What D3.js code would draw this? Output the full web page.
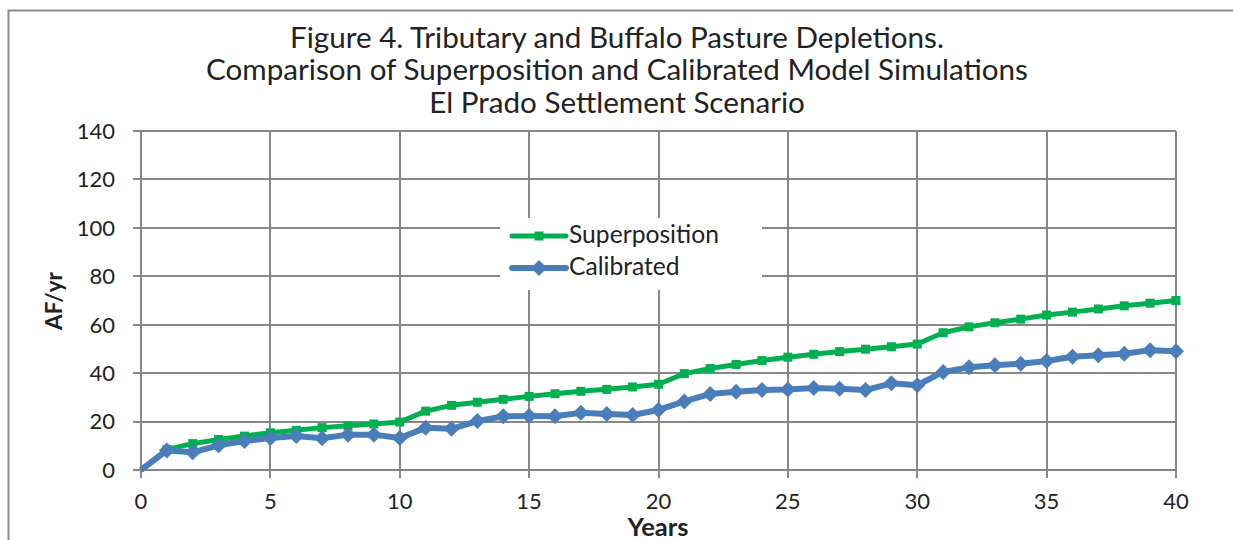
<!DOCTYPE html>
<html>
<head>
<meta charset="utf-8">
<script src="https://cdn.jsdelivr.net/npm/d3@7"></script>
<style>
  body { margin: 0; background: #fff; }
  svg { display: block; font-family: Lato, "Open Sans", sans-serif; }
</style>
</head>
<body>
<div id="chart"></div>
<script>
// Chart data
const years = d3.range(0, 41);
const superposition = [0, 8.5, 10.9, 12.6, 14.0, 15.4, 16.4, 17.5, 18.3, 19.0, 19.8,
  24.3, 26.7, 28.0, 29.2, 30.4, 31.5, 32.5, 33.3, 34.3, 35.4,
  39.8, 41.9, 43.6, 45.2, 46.6, 47.8, 48.9, 49.9, 50.9, 52.0,
  56.7, 59.1, 60.8, 62.3, 64.0, 65.2, 66.5, 67.8, 68.9, 70.0];
const calibrated = [0, 8.1, 7.3, 10.2, 12.0, 13.2, 14.0, 13.1, 14.6, 14.6, 13.2,
  17.4, 17.0, 20.2, 22.2, 22.3, 22.2, 23.6, 23.1, 22.7, 24.8,
  28.3, 31.4, 32.3, 33.0, 33.2, 33.9, 33.6, 33.0, 35.8, 35.0,
  40.5, 42.4, 43.3, 43.9, 45.0, 46.8, 47.4, 48.0, 49.5, 49.0];
const xTicks = [0, 5, 10, 15, 20, 25, 30, 35, 40];
const yTicks = [0, 20, 40, 60, 80, 100, 120, 140];
const titleLines = [
  "Figure 4. Tributary and Buffalo Pasture Depletions.",
  "Comparison of Superposition and Calibrated Model Simulations",
  "El Prado Settlement Scenario"
];

const width = 1233, height = 540;
const gridColor = "#878787";
const textColor = "#222";
const green = "#00b050", blue = "#4a7ebb";

const svg = d3.select("#chart").append("svg")
  .attr("width", width)
  .attr("height", height);

// scale a text's font size so it spans the wanted width
function fitWidth(sel, target) {
  const w = sel.node().getComputedTextLength();
  const fs = parseFloat(sel.attr("font-size"));
  sel.attr("font-size", (fs * target / w).toFixed(2) + "px");
  return fs * target / w;
}

// outer chart border (runs off the right and bottom edge)
svg.append("rect")
  .attr("x", 8.5).attr("y", 10.5)
  .attr("width", 1240).attr("height", 560)
  .attr("fill", "#fff")
  .attr("stroke", "#8c8c8c")
  .attr("stroke-width", 2);

const x = d3.scaleLinear().domain([0, 40]).range([141, 1176]);
const y = d3.scaleLinear().domain([0, 140]).range([470, 131]);

// title
const title = svg.append("g").attr("class", "title");
const titleTexts = titleLines.map((t, i) => title.append("text")
  .attr("x", 617)
  .attr("y", 47.5 + i * 32.5)
  .attr("text-anchor", "middle")
  .attr("font-size", "26px")
  .attr("fill", textColor)
  .text(t));
// one size for all three lines, taken from the longest one
const titleSize = fitWidth(titleTexts[1], 822);
titleTexts.forEach(t => t.attr("font-size", titleSize.toFixed(2) + "px"));

// grid
const grid = svg.append("g").attr("stroke", gridColor).attr("stroke-width", 2);
grid.selectAll("line.h").data(yTicks).enter().append("line")
  .attr("x1", x(0) - 8).attr("x2", x(40))
  .attr("y1", d => Math.round(y(d))).attr("y2", d => Math.round(y(d)));
grid.selectAll("line.v").data(xTicks).enter().append("line")
  .attr("x1", d => Math.round(x(d))).attr("x2", d => Math.round(x(d)))
  .attr("y1", y(140)).attr("y2", y(0) + 8);

// legend background hides the grid behind it
svg.append("rect")
  .attr("x", 500).attr("y", 218)
  .attr("width", 262).attr("height", 72)
  .attr("fill", "#fff");

// tick label size from the width of "140" in the reference
const probe = svg.append("text").attr("font-size", "20px").text("140");
const tickSize = fitWidth(probe, 38.3);
probe.remove();

// y axis labels
svg.append("g").selectAll("text").data(yTicks).enter().append("text")
  .attr("x", 115)
  .attr("y", d => y(d) + tickSize * 0.36)
  .attr("text-anchor", "end")
  .attr("font-size", tickSize + "px")
  .attr("fill", textColor)
  .text(d => d);

// x axis labels
svg.append("g").selectAll("text").data(xTicks).enter().append("text")
  .attr("x", d => x(d))
  .attr("y", 509)
  .attr("text-anchor", "middle")
  .attr("font-size", tickSize + "px")
  .attr("fill", textColor)
  .text(d => d);

const xTitle = svg.append("text")
  .attr("x", 658).attr("y", 536)
  .attr("text-anchor", "middle")
  .attr("font-size", "20px")
  .attr("font-weight", "bold")
  .attr("fill", textColor)
  .text("Years");
fitWidth(xTitle, 61);

const yTitle = svg.append("text")
  .attr("transform", "translate(62, 301) rotate(-90)")
  .attr("text-anchor", "middle")
  .attr("font-size", "20px")
  .attr("font-weight", "bold")
  .attr("fill", textColor)
  .text("AF/yr");
fitWidth(yTitle, 58);

// series
const line = d3.line()
  .x((d, i) => x(years[i]))
  .y(d => y(d));

svg.append("path")
  .datum(superposition)
  .attr("fill", "none")
  .attr("stroke", green)
  .attr("stroke-width", 5)
  .attr("stroke-linejoin", "round")
  .attr("d", line);

svg.append("g").selectAll("rect")
  .data(superposition.slice(1))
  .enter().append("rect")
  .attr("x", (d, i) => x(years[i + 1]) - 4.5)
  .attr("y", d => y(d) - 4.5)
  .attr("width", 9).attr("height", 9)
  .attr("fill", green);

svg.append("path")
  .datum(calibrated)
  .attr("fill", "none")
  .attr("stroke", blue)
  .attr("stroke-width", 6)
  .attr("stroke-linejoin", "round")
  .attr("d", line);

const diamond = d3.symbol().type(d3.symbolSquare).size(128);
svg.append("g").selectAll("path")
  .data(calibrated.slice(1))
  .enter().append("path")
  .attr("d", diamond)
  .attr("transform", (d, i) => `translate(${x(years[i + 1])},${y(d)}) rotate(45)`)
  .attr("fill", blue);

// legend
const legend = svg.append("g").attr("transform", "translate(512, 236)");
const legendItems = [
  { label: "Superposition", color: green, marker: "square" },
  { label: "Calibrated", color: blue, marker: "diamond" }
];
let legendSize = null;
legendItems.forEach((d, i) => {
  const g = legend.append("g").attr("transform", `translate(0, ${i * 32})`);
  g.append("line")
    .attr("x1", 0).attr("x2", 54)
    .attr("stroke", d.color)
    .attr("stroke-width", d.marker === "square" ? 5 : 6)
    .attr("stroke-linecap", "round");
  if (d.marker === "square") {
    g.append("rect").attr("x", 27 - 4.5).attr("y", -4.5)
      .attr("width", 9).attr("height", 9).attr("fill", d.color);
  } else {
    g.append("path")
      .attr("d", diamond)
      .attr("transform", "translate(27,0) rotate(45)")
      .attr("fill", d.color);
  }
  const t = g.append("text")
    .attr("x", 57).attr("y", 7)
    .attr("font-size", (legendSize || 20) + "px")
    .attr("fill", textColor)
    .text(d.label);
  if (!legendSize) legendSize = fitWidth(t, 150);
});
</script>
</body>
</html>
